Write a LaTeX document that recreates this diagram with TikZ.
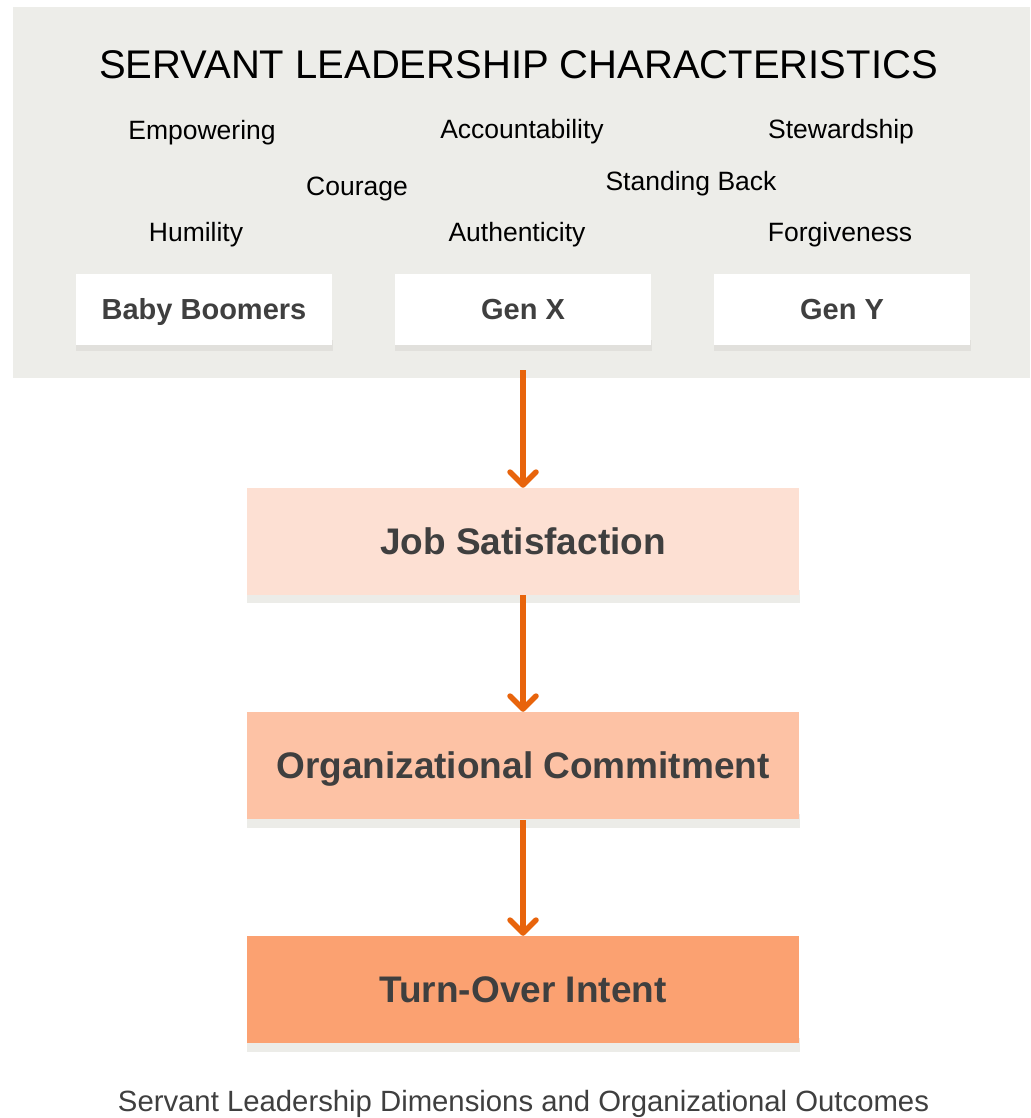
\documentclass[tikz,border=0pt]{standalone}
\usepackage{fontspec}
\setmainfont{Liberation Sans}
\usetikzlibrary{arrows.meta}
\definecolor{panelgray}{HTML}{EDEDE9}
\definecolor{shadowgray}{HTML}{E1E0DC}
\definecolor{lowshadow}{HTML}{ECECE8}
\definecolor{txtdark}{HTML}{3F3F3F}
\definecolor{arrorange}{HTML}{E8640C}
\definecolor{boxA}{HTML}{FDE0D3}
\definecolor{boxB}{HTML}{FDC2A5}
\definecolor{boxC}{HTML}{FBA171}
\tikzset{
  word/.style={font=\fontsize{26.5}{30}\selectfont, text=black, inner sep=0pt},
  genbox/.style={fill=white, minimum width=256pt, minimum height=71pt, inner sep=0pt,
    font=\fontsize{29}{33}\selectfont\bfseries, text=txtdark, text height=20.8pt, text depth=0pt},
  outbox/.style={minimum width=552pt, minimum height=107pt, inner sep=0pt,
    font=\fontsize{37}{42}\selectfont\bfseries, text=txtdark, text height=26.5pt, text depth=0pt},
  flow/.style={draw=arrorange, line width=5.5pt,
    -{Straight Barb[length=13pt, width=26pt, line cap=round, line join=round]}}
}
\begin{document}
\begin{tikzpicture}[x=1pt, y=-1pt]
\useasboundingbox (0,0) rectangle (1030,1118);
\fill[white] (0,0) rectangle (1030,1118);
% panel
\node[fill=panelgray, minimum width=1017pt, minimum height=371pt, inner sep=0pt] (panel) at (521.5,192.5) {};
\node[font=\fontsize{40}{44}\selectfont, inner sep=0pt, text height=28.6pt, text depth=0pt] (title) at (518.5,64) {SERVANT LEADERSHIP CHARACTERISTICS};
% characteristic words
\node[word] (w1) at (202,133) {Empowering};
\node[word] (w2) at (522,132) {Accountability};
\node[word] (w3) at (841,132) {Stewardship};
\node[word] (w4) at (357,189) {Courage};
\node[word] (w5) at (691,184) {Standing Back};
\node[word] (w6) at (196,235) {Humility};
\node[word] (w7) at (517,235) {Authenticity};
\node[word] (w8) at (840,235) {Forgiveness};
% generation boxes with shadow strips
\fill[shadowgray] (76,340) rectangle (333,351);
\fill[shadowgray] (395,340) rectangle (652,351);
\fill[shadowgray] (714,340) rectangle (971,351);
\node[genbox] (bb) at (204,309.5) {Baby Boomers};
\node[genbox] (gx) at (523,309.5) {Gen X};
\node[genbox] (gy) at (842,309.5) {Gen Y};
% outcome boxes with shadow strips
\fill[lowshadow] (247,590) rectangle (800,603);
\fill[lowshadow] (247,814) rectangle (800,828);
\fill[lowshadow] (247,1038) rectangle (800,1052);
\node[outbox, fill=boxA] (js) at (523,541.5) {Job Satisfaction};
\node[outbox, fill=boxB] (oc) at (523,765.5) {Organizational Commitment};
\node[outbox, fill=boxC] (ti) at (523,989.5) {Turn-Over Intent};
% arrows
\coordinate (a0) at (523,370);
\draw[flow] (a0) -- (js.north);
\draw[flow] (js.south) -- (oc.north);
\draw[flow] ([yshift=-1pt]oc.south) -- (ti.north);
% caption
\node[font=\fontsize{29.3}{33}\selectfont, text=txtdark, inner sep=0pt] (cap) at (523.5,1104) {Servant Leadership Dimensions and Organizational Outcomes};
\end{tikzpicture}
\end{document}
